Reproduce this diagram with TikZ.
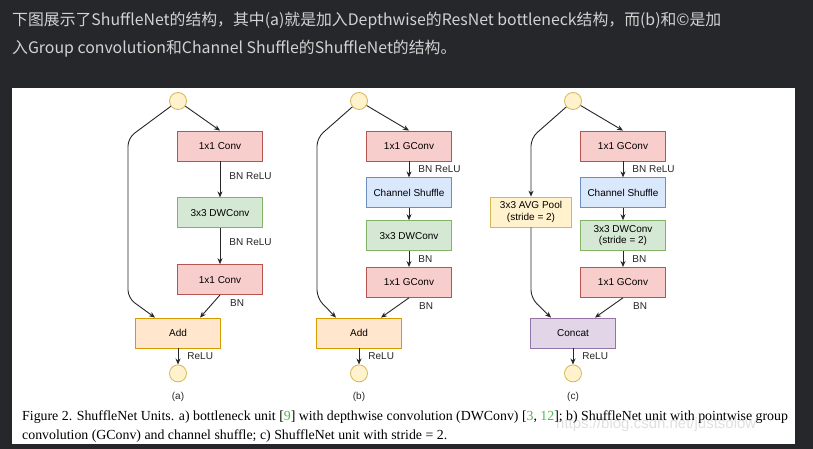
\documentclass[tikz,border=0pt]{standalone}
\usepackage{fontspec}
\setmainfont{Liberation Serif}
\setsansfont{Liberation Sans}
\newfontfamily\cjk{Noto Sans CJK SC}
\usepackage{xcolor}
\usetikzlibrary{calc,arrows.meta,positioning}
\definecolor{pagebg}{HTML}{26272A}
\definecolor{headtx}{HTML}{D2D2D2}
\definecolor{redfill}{HTML}{F8CECC}
\definecolor{redline}{HTML}{B85450}
\definecolor{greenfill}{HTML}{D5E8D4}
\definecolor{greenline}{HTML}{82B366}
\definecolor{bluefill}{HTML}{DAE8FC}
\definecolor{blueline}{HTML}{6C8EBF}
\definecolor{orangefill}{HTML}{FFE6CC}
\definecolor{orangeline}{HTML}{D79B00}
\definecolor{yellowfill}{HTML}{FFF2CC}
\definecolor{yellowline}{HTML}{D6B656}
\definecolor{purplefill}{HTML}{E1D5E7}
\definecolor{purpleline}{HTML}{9673A6}
\definecolor{citegreen}{HTML}{4DB84D}
\tikzset{
  blk/.style={draw,line width=0.8pt,minimum width=85pt,minimum height=30pt,inner sep=0pt,align=center,font=\sffamily\fontsize{10}{11.5}\selectfont},
  cv/.style={blk,draw=redline,fill=redfill},
  dw/.style={blk,draw=greenline,fill=greenfill},
  sh/.style={blk,draw=blueline,fill=bluefill},
  ad/.style={blk,draw=orangeline,fill=orangefill},
  pl/.style={blk,minimum width=81pt,draw=yellowline,fill=yellowfill},
  cc/.style={blk,draw=purpleline,fill=purplefill},
  io/.style={circle,draw=yellowline,fill=yellowfill,line width=0.8pt,minimum size=17pt,inner sep=0pt},
  ar/.style={-{Stealth[length=6pt,width=5pt]},line width=0.9pt,black!85},
  lb/.style={font=\sffamily\fontsize{10}{11.5}\selectfont,inner sep=1pt,text=black!85},
  captxt/.style={font=\fontsize{13.85}{15}\selectfont,anchor=west,inner sep=0pt}
}

\begin{document}
\begin{tikzpicture}[x=1pt,y=-1pt]
\useasboundingbox (0,0) rectangle (813,449);
\fill[pagebg] (0,0) rectangle (813,449);
\fill[white] (12,88) rectangle (795,444);

% heading above the figure
\node[anchor=west,inner sep=0pt,text=headtx,font=\cjk\fontsize{15.85}{18}\selectfont] (head1) at (12,21) {下图展示了ShuffleNet的结构，其中(a)就是加入Depthwise的ResNet bottleneck结构，而(b)和©是加};
\node[anchor=west,inner sep=0pt,text=headtx,font=\cjk\fontsize{15.85}{18}\selectfont] (head2) at (12,49) {入Group convolution和Channel Shuffle的ShuffleNet的结构。};

% (a) bottleneck unit
\node[io] (inA) at (178,101) {};
\node[cv] (convA1) at (220,146) {1x1 Conv};
\node[dw,below=36pt of convA1] (dwA) {3x3 DWConv};
\node[cv,below=36pt of dwA] (convA2) {1x1 Conv};
\node[ad] (addA) at (178,333) {Add};
\node[io,below=25pt of addA.south,anchor=center] (outA) {};
\node[lb,below=9pt of outA] (subA) {(a)};
\coordinate (kA1) at (128,138);
\coordinate (kA2) at (128,298);
\draw[ar] (inA) -- (convA1.north);
\draw[ar] (convA1) -- node[lb,pos=0.4,right=8pt] {BN ReLU} (dwA);
\draw[ar] (dwA) -- node[lb,pos=0.4,right=8pt] {BN ReLU} (convA2);
\draw[ar] (convA2.south) -- ([xshift=22pt]addA.north);
\node[lb,anchor=west] at ([xshift=9pt,yshift=-8pt]convA2.south) {BN};
\draw[ar,rounded corners=8pt] (inA) -- (kA1) -- (kA2) -- ([xshift=-23pt]addA.north);
\draw[ar] (addA) -- node[lb,midway,right=8pt] {ReLU} (outA);

% (b) ShuffleNet unit
\node[io] (inB) at (359,101) {};
\node[cv] (convB1) at (409,146) {1x1 GConv};
\node[sh,below=16pt of convB1] (shB) {Channel Shuffle};
\node[dw,below=12pt of shB] (dwB) {3x3 DWConv};
\node[cv,below=16pt of dwB] (convB2) {1x1 GConv};
\node[ad] (addB) at (359,333) {Add};
\node[io,below=25pt of addB.south,anchor=center] (outB) {};
\node[lb,below=9pt of outB] (subB) {(b)};
\coordinate (kB1) at (317,138);
\coordinate (kB2) at (317,298);
\draw[ar] (inB) -- (convB1.north);
\draw[ar] (convB1) -- node[lb,midway,right=8pt] {BN ReLU} (shB);
\draw[ar] (shB) -- (dwB);
\draw[ar] (dwB) -- node[lb,midway,right=8pt] {BN} (convB2);
\draw[ar] (convB2.south) -- ([xshift=22pt]addB.north);
\node[lb,anchor=west] at ([xshift=9pt,yshift=-8pt]convB2.south) {BN};
\draw[ar,rounded corners=8pt] (inB) -- (kB1) -- (kB2) -- ([xshift=-23pt]addB.north);
\draw[ar] (addB) -- node[lb,midway,right=8pt] {ReLU} (outB);

% (c) ShuffleNet unit with stride 2
\node[io] (inC) at (573,101) {};
\node[cv] (convC1) at (623,146) {1x1 GConv};
\node[sh,below=16pt of convC1] (shC) {Channel Shuffle};
\node[dw,below=12pt of shC] (dwC) {3x3 DWConv\\(stride = 2)};
\node[cv,below=16pt of dwC] (convC2) {1x1 GConv};
\node[pl] (poolC) at (531,212) {3x3 AVG Pool\\(stride = 2)};
\node[cc] (catC) at (573,333) {Concat};
\node[io,below=25pt of catC.south,anchor=center] (outC) {};
\node[lb,below=9pt of outC] (subC) {(c)};
\coordinate (kC1) at (531,138);
\coordinate (kC2) at (531,298);
\draw[ar] (inC) -- (convC1.north);
\draw[ar] (convC1) -- node[lb,midway,right=8pt] {BN ReLU} (shC);
\draw[ar] (shC) -- (dwC);
\draw[ar] (dwC) -- node[lb,midway,right=8pt] {BN} (convC2);
\draw[ar] (convC2.south) -- ([xshift=22pt]catC.north);
\node[lb,anchor=west] at ([xshift=9pt,yshift=-8pt]convC2.south) {BN};
\draw[ar,rounded corners=8pt] (inC) -- (kC1) -- (poolC.north);
\draw[ar,rounded corners=8pt] (poolC.south) -- (kC2) -- ([xshift=-22pt]catC.north);
\draw[ar] (catC) -- node[lb,midway,right=8pt] {ReLU} (outC);

% caption and watermark
\node[anchor=west,inner sep=0pt,text=black!12,font=\sffamily\fontsize{15}{17}\selectfont] (mark) at (556,425) {https://blog.csdn.net/justsolow};
\node[captxt] (cap1) at (22,417) {Figure 2. ShuffleNet Units. a) bottleneck unit [\textcolor{citegreen}{9}] with depthwise convolution (DWConv) [\textcolor{citegreen}{3}, \textcolor{citegreen}{12}]; b) ShuffleNet unit with pointwise group};
\node[captxt] (cap2) at (22,436) {convolution (GConv) and channel shuffle; c) ShuffleNet unit with stride = 2.};
\end{tikzpicture}
\end{document}
